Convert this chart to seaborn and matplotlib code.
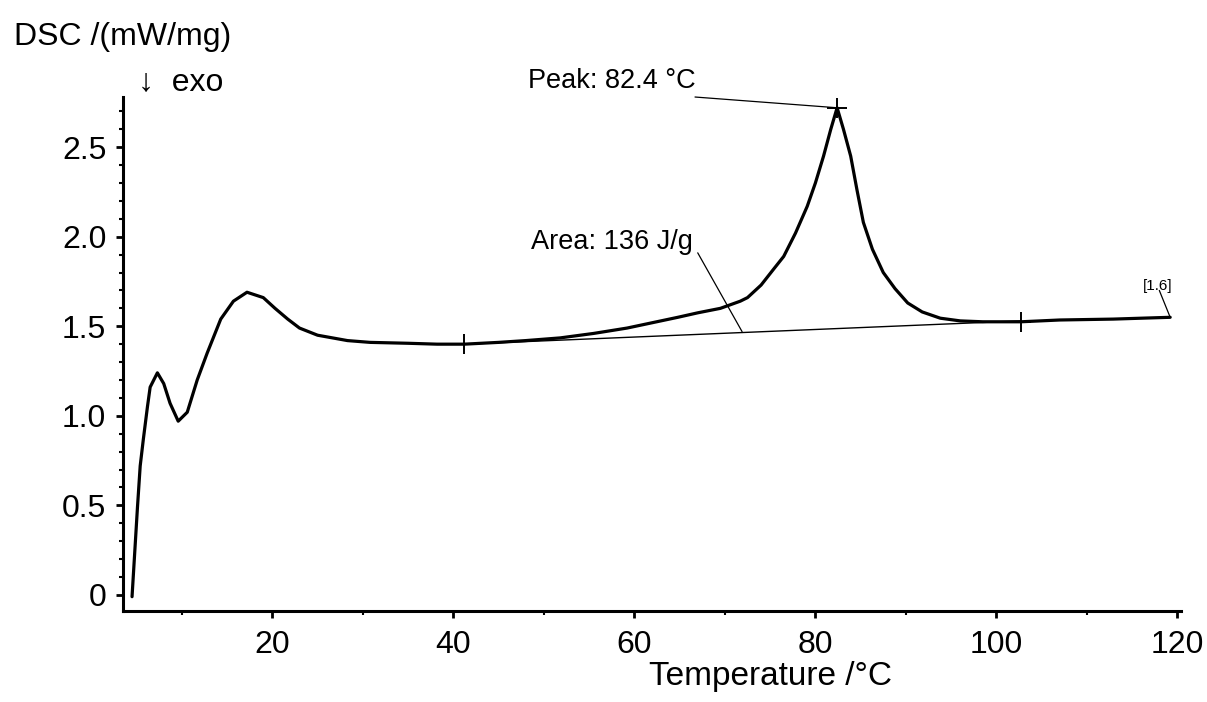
import matplotlib
matplotlib.use("Agg")
import matplotlib.pyplot as plt
import seaborn as sns
import pandas as pd
from matplotlib.ticker import MultipleLocator

# DSC curve
temp = [4.5, 5.1, 5.4, 5.75, 6.2, 6.5, 7.3, 8.0, 8.7, 9.6, 10.6, 11.7, 12.8, 14.3, 15.7,
        17.2, 19.0, 20.3, 21.7, 23.0, 25.0, 28.3, 30.8, 35.0, 38.2, 41.2, 45.0, 48.0,
        51.8, 55.5, 59.2, 62.0, 64.8, 67.0, 69.5, 71.7, 72.5, 74.0, 75.4, 76.5, 77.8,
        79.1, 80.0, 80.9, 81.7, 82.4, 83.1, 83.9, 84.6, 85.3, 86.3, 87.5, 88.8, 90.2,
        91.8, 93.8, 96.0, 98.5, 102.7, 107.0, 112.9, 116.0, 119.2]
dsc = [-0.01, 0.49, 0.72, 0.87, 1.05, 1.16, 1.24, 1.18, 1.07, 0.97, 1.02, 1.20, 1.35, 1.54, 1.64,
       1.69, 1.66, 1.60, 1.54, 1.49, 1.45, 1.42, 1.41, 1.405, 1.40, 1.40, 1.41, 1.42,
       1.435, 1.46, 1.49, 1.52, 1.55, 1.575, 1.60, 1.64, 1.66, 1.73, 1.82, 1.89, 2.02,
       2.17, 2.30, 2.45, 2.60, 2.72, 2.60, 2.45, 2.26, 2.08, 1.93, 1.80, 1.71, 1.63,
       1.58, 1.545, 1.53, 1.525, 1.525, 1.535, 1.54, 1.545, 1.55]

# integration baseline and marked points
base_t = [41.2, 102.7]
base_y = [1.40, 1.53]
mark_t = [41.2, 82.4, 102.7]
mark_y = [1.40, 2.72, 1.525]

sns.set_style("ticks", {'axes.edgecolor': 'black', 'text.color': 'black',
                        'axes.labelcolor': 'black', 'xtick.color': 'black',
                        'ytick.color': 'black'})
plt.rcParams['font.family'] = ['Liberation Sans', 'DejaVu Sans']

df = pd.DataFrame({'t': temp, 'dsc': dsc})

fig = plt.figure(figsize=(12.07, 7.02), dpi=100)
ax = fig.add_axes([0.1019, 0.1296, 0.8766, 0.7322])

sns.lineplot(data=df, x='t', y='dsc', ax=ax, color='black', linewidth=2.3,
             estimator=None, sort=False)
sns.lineplot(x=base_t, y=base_y, ax=ax, color='black', linewidth=1.0, estimator=None)
ax.plot(mark_t, mark_y, linestyle='none', marker='+', markersize=15,
        markeredgewidth=1.4, color='black')

ax.set_xlim(3.5, 120.4)
ax.set_ylim(-0.09, 2.78)
ax.xaxis.set_major_locator(MultipleLocator(20))
ax.xaxis.set_minor_locator(MultipleLocator(10))
ax.yaxis.set_major_locator(MultipleLocator(0.5))
ax.yaxis.set_minor_locator(MultipleLocator(0.1))
ax.set_yticks([0, 0.5, 1.0, 1.5, 2.0, 2.5])
ax.set_yticklabels(['0', '0.5', '1.0', '1.5', '2.0', '2.5'])
ax.set_xticks([20, 40, 60, 80, 100, 120])

ax.tick_params(which='major', direction='out', length=5, width=2, labelsize=23, pad=7,
               colors='black')
ax.tick_params(which='minor', direction='out', length=3, width=1.5, colors='black')
ax.tick_params(axis='x', which='major', pad=9)

for s in ['top', 'right']:
    ax.spines[s].set_visible(False)
for s in ['left', 'bottom']:
    ax.spines[s].set_linewidth(2.2)
    ax.spines[s].set_color('black')

ax.set_xlabel('Temperature /°C', fontsize=24, color='black')
ax.set_ylabel('')
ax.xaxis.label.set_verticalalignment('baseline')
ax.xaxis.set_label_coords(0.612, -0.143)

fig.text(14 / 1207, 1 - 45 / 702, 'DSC /(mW/mg)', fontsize=23, va='baseline', ha='left',
         color='black')
fig.text(138 / 1207, 1 - 90 / 702, '↓  exo', fontsize=23, va='baseline', ha='left',
         color='black')

# annotations
ax.annotate('', xy=(82.4, 2.72), xytext=(66.7, 2.78),
            arrowprops=dict(arrowstyle='-', color='black', lw=0.9, shrinkA=0, shrinkB=0),
            annotation_clip=False)
ax.text(48.3, 2.83, 'Peak: 82.4 °C', fontsize=19.5, va='baseline', ha='left', clip_on=False,
        color='black')
ax.annotate('', xy=(71.9, 1.47), xytext=(67.0, 1.91),
            arrowprops=dict(arrowstyle='-', color='black', lw=0.9, shrinkA=0, shrinkB=0))
ax.text(48.6, 1.93, 'Area: 136 J/g', fontsize=19.5, va='baseline', ha='left', color='black')
ax.annotate('', xy=(119.2, 1.55), xytext=(118.0, 1.70),
            arrowprops=dict(arrowstyle='-', color='black', lw=0.9, shrinkA=0, shrinkB=0),
            annotation_clip=False)
ax.text(116.2, 1.705, '[1.6]', fontsize=11, va='baseline', ha='left', clip_on=False,
        color='black')

fig.savefig('out.png', dpi=100)
